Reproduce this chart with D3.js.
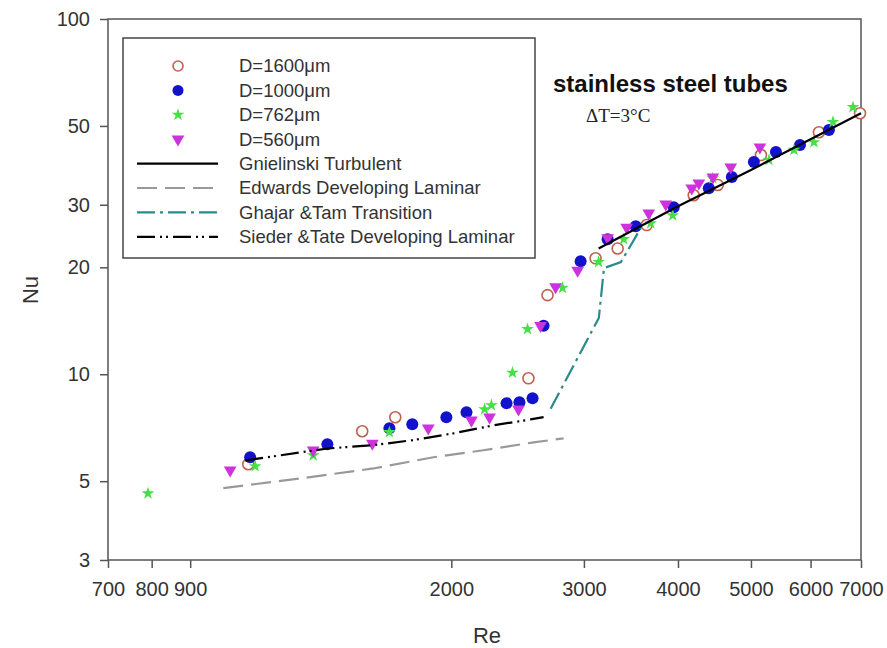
<!DOCTYPE html>
<html>
<head>
<meta charset="utf-8">
<script src="https://cdn.jsdelivr.net/npm/d3@7"></script>
<style>
  body { margin: 0; background: #fff; }
  svg { font-family: "Liberation Sans", Arial, sans-serif; }
</style>
</head>
<body>
<div id="chart-area"></div>
<script>
// valeurs (Re, Nu)
var re1600 = [1075, 1523, 1685, 2532, 2684, 3109, 3326, 3635, 4197, 4517, 5155, 6155, 6979];
var nu1600 = [5.58, 6.91, 7.57, 9.74, 16.7, 21.2, 22.6, 26.3, 31.9, 34.1, 41.4, 48.0, 54.3];

var re1000 = [1081, 1369, 1655, 1775, 1970, 2095, 2368, 2463, 2564, 2652, 2970, 3226, 3515, 3948, 4395, 4716, 5045, 5397, 5809, 6346];
var nu1000 = [5.84, 6.35, 7.05, 7.23, 7.57, 7.82, 8.29, 8.34, 8.56, 13.7, 20.8, 24.0, 26.1, 29.5, 33.4, 35.9, 39.6, 42.2, 44.2, 48.7];

var re762 = [791, 1098, 1311, 1655, 2214, 2261, 2411, 2525, 2810, 3138, 3388, 3680, 3936, 4449, 5283, 5703, 6062, 6425, 6831];
var nu762 = [4.62, 5.51, 5.91, 6.87, 7.97, 8.18, 10.1, 13.4, 17.5, 20.7, 24.0, 26.6, 28.0, 35.6, 40.1, 42.8, 45.0, 51.3, 56.5];

var re560 = [1017, 1311, 1571, 1864, 2127, 2248, 2456, 2627, 2751, 2943, 3226, 3419, 3658, 3853, 4172, 4263, 4449, 4700, 5139];
var nu560 = [5.37, 6.11, 6.39, 7.05, 7.42, 7.57, 7.97, 13.7, 17.6, 19.6, 24.2, 25.9, 28.4, 30.1, 33.4, 34.5, 35.9, 38.3, 43.6];

// correlations
var reGniel = [3138, 4000, 5000, 7000];
var nuGniel = [22.6, 29.7, 37.6, 54.3];

var reEdw = [996, 1260, 1576, 1894, 2206, 2572, 2819];
var nuEdw = [4.78, 5.09, 5.43, 5.84, 6.11, 6.43, 6.60];

var reGhajar = [2710, 3140, 3190, 3360, 3570];
var nuGhajar = [8.0, 14.4, 19.9, 20.7, 25.8];

var reSieder = [1065, 1369, 1571, 1775, 2013, 2276, 2548, 2652];
var nuSieder = [5.72, 6.18, 6.31, 6.52, 6.82, 7.18, 7.46, 7.57];

var xTicks = [700, 800, 900, 2000, 3000, 4000, 5000, 6000, 7000];
var yTicks = [3, 5, 10, 20, 30, 50, 100];

var legendNames = ["D=1600\u03bcm", "D=1000\u03bcm", "D=762\u03bcm", "D=560\u03bcm",
    "Gnielinski Turbulent", "Edwards Developing Laminar", "Ghajar &Tam Transition", "Sieder &Tate Developing Laminar"];

function zip(a, b) {
    return a.map(function(d, i) { return [d, b[i]]; });
}

var svg = d3.select("#chart-area").append("svg")
    .attr("width", 887)
    .attr("height", 648);

var x = d3.scaleLog().domain([700, 7000]).range([108, 861]);
var y = d3.scaleLog().domain([3, 100]).range([560, 19]);

// axes
var xAxis = svg.append("g")
    .attr("transform", "translate(0,560)")
    .call(d3.axisBottom(x).tickValues(xTicks).tickFormat(d3.format("d")).tickSize(8).tickPadding(14));
var yAxis = svg.append("g")
    .attr("transform", "translate(108,0)")
    .call(d3.axisLeft(y).tickValues(yTicks).tickFormat(d3.format("d")).tickSize(8).tickPadding(10));

[xAxis, yAxis].forEach(function(a) {
    a.select(".domain").remove();
    a.selectAll(".tick line").attr("stroke", "#555").attr("stroke-width", 1.5);
    a.selectAll(".tick text").attr("fill", "#333").style("font-size", "20px");
});

svg.append("rect")
    .attr("x", 108).attr("y", 19)
    .attr("width", 861 - 108).attr("height", 560 - 19)
    .attr("fill", "none")
    .attr("stroke", "#555")
    .attr("stroke-width", 1.5);

svg.append("text")
    .attr("x", 487).attr("y", 643)
    .attr("text-anchor", "middle")
    .attr("fill", "#333")
    .style("font-size", "22px")
    .text("Re");

svg.append("text")
    .attr("transform", "translate(38,290) rotate(-90)")
    .attr("text-anchor", "middle")
    .attr("fill", "#333")
    .style("font-size", "22px")
    .text("Nu");

// markers
var star = d3.symbol().type(d3.symbolStar).size(50);
var tri = d3.symbol().type(d3.symbolTriangle).size(70);

svg.append("g").selectAll("circle")
    .data(zip(re1600, nu1600))
    .enter().append("circle")
    .attr("cx", function(d) { return x(d[0]); })
    .attr("cy", function(d) { return y(d[1]); })
    .attr("r", 5.5)
    .attr("fill", "#fff")
    .attr("stroke", "#c0614f")
    .attr("stroke-width", 1.6);

svg.append("g").selectAll("circle")
    .data(zip(re1000, nu1000))
    .enter().append("circle")
    .attr("cx", function(d) { return x(d[0]); })
    .attr("cy", function(d) { return y(d[1]); })
    .attr("r", 6)
    .attr("fill", "#1212cc");

svg.append("g").selectAll("path")
    .data(zip(re762, nu762))
    .enter().append("path")
    .attr("d", star)
    .attr("transform", function(d) { return "translate(" + x(d[0]) + "," + y(d[1]) + ")"; })
    .attr("fill", "#45e045");

svg.append("g").selectAll("path")
    .data(zip(re560, nu560))
    .enter().append("path")
    .attr("d", tri)
    .attr("transform", function(d) { return "translate(" + x(d[0]) + "," + y(d[1]) + ") rotate(180)"; })
    .attr("fill", "#cc33dd");

// correlation lines
var line = d3.line()
    .x(function(d) { return x(d[0]); })
    .y(function(d) { return y(d[1]); });

var styles = [
    {data: zip(reGniel, nuGniel), color: "#000", dash: null},
    {data: zip(reEdw, nuEdw), color: "#999", dash: "20,8"},
    {data: zip(reGhajar, nuGhajar), color: "#2a8a8c", dash: "18,5,3,5"},
    {data: zip(reSieder, nuSieder), color: "#000", dash: "18,5,2,4,2,5"}
];

styles.forEach(function(s) {
    svg.append("path")
        .datum(s.data)
        .attr("d", line)
        .attr("fill", "none")
        .attr("stroke", s.color)
        .attr("stroke-width", 2.2)
        .attr("stroke-dasharray", s.dash);
});

// annotations
svg.append("text")
    .attr("x", 553).attr("y", 92)
    .attr("fill", "#111")
    .style("font-size", "24px")
    .style("font-weight", "bold")
    .text("stainless steel tubes");

svg.append("text")
    .attr("x", 586).attr("y", 122)
    .attr("fill", "#222")
    .style("font-family", "'Liberation Serif', 'Times New Roman', serif")
    .style("font-size", "19px")
    .text("\u0394T=3\u00b0C");

// legend
var legend = svg.append("g");
legend.append("rect")
    .attr("x", 123).attr("y", 38)
    .attr("width", 412).attr("height", 220)
    .attr("fill", "#fff")
    .attr("stroke", "#444")
    .attr("stroke-width", 1.5);

var rows = legend.selectAll("g.row")
    .data(legendNames)
    .enter().append("g")
    .attr("class", "row")
    .attr("transform", function(d, i) { return "translate(0," + (66 + i * 24.4) + ")"; });

rows.append("text")
    .attr("x", 239).attr("y", 0)
    .attr("dy", "0.35em")
    .attr("fill", "#333")
    .style("font-size", "18.5px")
    .text(function(d) { return d; });

rows.each(function(d, i) {
    var g = d3.select(this);
    if (i == 0) {
        g.append("circle").attr("cx", 178).attr("r", 5).attr("fill", "#fff")
            .attr("stroke", "#c0614f").attr("stroke-width", 1.6);
    } else if (i == 1) {
        g.append("circle").attr("cx", 178).attr("r", 5.5).attr("fill", "#1212cc");
    } else if (i == 2) {
        g.append("path").attr("d", star).attr("transform", "translate(178,0)").attr("fill", "#45e045");
    } else if (i == 3) {
        g.append("path").attr("d", tri).attr("transform", "translate(178,0) rotate(180)").attr("fill", "#cc33dd");
    } else {
        var s = styles[i - 4];
        g.append("line").attr("x1", 137).attr("x2", 218)
            .attr("stroke", s.color).attr("stroke-width", 2.2)
            .attr("stroke-dasharray", s.dash);
    }
});
</script>
</body>
</html>
